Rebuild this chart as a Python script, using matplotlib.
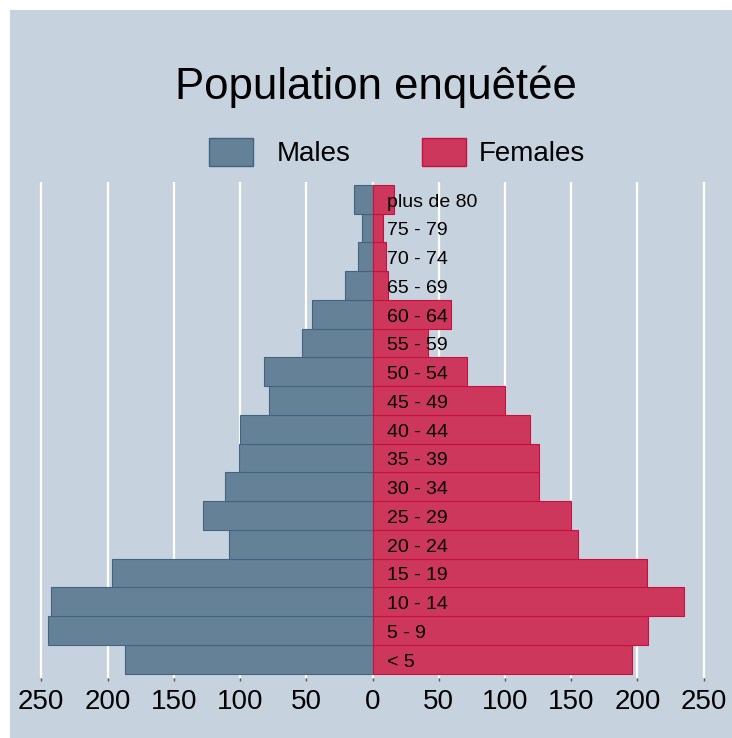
import numpy as np
import matplotlib.pyplot as plt
from matplotlib.patches import Rectangle

plt.rcParams['font.family'] = ['Liberation Sans', 'DejaVu Sans']

# age groups, bottom to top
ages = ['< 5', '5 - 9', '10 - 14', '15 - 19', '20 - 24', '25 - 29', '30 - 34',
        '35 - 39', '40 - 44', '45 - 49', '50 - 54', '55 - 59', '60 - 64',
        '65 - 69', '70 - 74', '75 - 79', 'plus de 80']
males = [187, 245, 243, 197, 108, 128, 111, 101, 100, 78, 82, 53, 46, 21, 11, 8, 14]
females = [196, 208, 235, 207, 155, 150, 126, 126, 119, 100, 71, 42, 59, 12, 10, 8, 16]
ticks = [-250, -200, -150, -100, -50, 0, 50, 100, 150, 200, 250]

BG = '#c6d3df'
MALE_FILL, MALE_EDGE = '#648197', '#41647f'
FEM_FILL, FEM_EDGE = '#ce375c', '#c8103e'

W, H = 732, 738
fig = plt.figure(figsize=(W / 100, H / 100), dpi=100, facecolor='white')
# plot region background leaves a thin white band at top and left
fig.patches.append(Rectangle((10 / W, 0), 1, 728 / H, transform=fig.transFigure,
                             facecolor=BG, edgecolor='none', zorder=-10))

ax = fig.add_axes([0.0365, 0.0817, 0.9448, 0.6717])
ax.set_facecolor(BG)

y = np.arange(len(ages))
ax.barh(y, -np.array(males), height=1, color=MALE_FILL, edgecolor=MALE_EDGE, linewidth=0.8, zorder=2)
ax.barh(y, females, height=1, color=FEM_FILL, edgecolor=FEM_EDGE, linewidth=0.8, zorder=2)

for yi, lab in zip(y, ages):
    ax.text(11, yi - 0.1, lab, ha='left', va='center', fontsize=14, zorder=3)

ax.set_xlim(-261, 261)
ax.set_ylim(-0.64, 16.6)
ax.set_xticks(ticks)
ax.set_xticklabels([str(abs(t)) for t in ticks], fontsize=20)
ax.set_yticks([])
ax.tick_params(axis='x', length=2, width=1, color='#555555', pad=6)
ax.grid(axis='x', color='white', linewidth=1.6, zorder=0)
ax.set_axisbelow(True)
for s in ax.spines.values():
    s.set_visible(False)

fig.text(0.5137, 0.8659, 'Population enquêtée', ha='center', va='baseline', fontsize=31.5)

# legend, laid out by hand (pixel positions from the top-left)
legend_items = [('Males', MALE_FILL, MALE_EDGE, 209, 277),
                ('Females', FEM_FILL, FEM_EDGE, 422, 479)]
for label, fc, ec, box_x, text_x in legend_items:
    fig.patches.append(Rectangle((box_x / W, (H - 166) / H), 44 / W, 28.5 / H,
                                 transform=fig.transFigure, facecolor=fc,
                                 edgecolor=ec, linewidth=1))
    fig.text(text_x / W, (H - 161) / H, label, ha='left', va='baseline', fontsize=20)

fig.savefig('out.png', dpi=100, facecolor=fig.get_facecolor())
